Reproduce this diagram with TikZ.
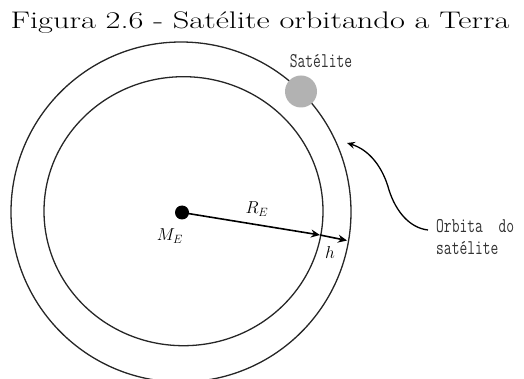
\documentclass[tikz,border=0pt]{standalone}
\usepackage{fontspec}
\usepackage{tikz}
\usetikzlibrary{arrows.meta, positioning}
\newcommand{\notetext}[1]{\scalebox{0.72}[1]{\ttfamily\fontsize{21}{23}\selectfont #1}}

\begin{document}
\begin{tikzpicture}[
    x=1pt, y=-1pt,
    orbit/.style={draw=black!85, line width=1.3pt},
    vecarrow/.style={-{Stealth[length=9pt, width=8pt, inset=3pt]}, line width=1.6pt},
    note/.style={text=black!80, inner sep=0pt},
    mathlbl/.style={font=\fontsize{17}{19}\selectfont, inner sep=0pt}
]
    \useasboundingbox (0,0) rectangle (524,379);

    % Title
    \node[anchor=base, inner sep=0pt, font=\fontsize{24}{28}\selectfont] (title) at (260,29) {\scalebox{1.35}[1]{Figura 2.6 - Satélite orbitando a Terra}};

    % Earth surface and orbit
    \draw[orbit] (183.5,211.2) ellipse [x radius=139.5pt, y radius=134.5pt];
    \draw[orbit] (181,212) circle [radius=170pt];

    % Earth mass and satellite
    \node[circle, fill=black, minimum size=14pt, inner sep=0pt] (earth) at (182,212.5) {};
    \node[circle, fill=black!30, minimum size=32pt, inner sep=0pt] (sat) at (301,91.5) {};
    \node[note, anchor=base] (satlbl) at (321,68) {\notetext{Satélite}};

    % Radius and height
    \coordinate (surf) at (320,235);
    \coordinate (orb) at (347,240.5);
    \draw[vecarrow] (earth.center) -- (surf);
    \draw[vecarrow] (surf) -- (orb);
    \node[mathlbl] (rlbl) at (257,209) {$R_E$};
    \node[mathlbl] (mlbl) at (170,236) {$M_E$};
    \node[mathlbl] (hlbl) at (330,252) {$h$};

    % Orbit label
    \node[note, anchor=base west] (orblbl) at (436,233) {\notetext{Orbita\ \ do}};
    \node[note, anchor=base west] (orblbl2) at (436,254) {\notetext{satélite}};
    \coordinate (orbstart) at (428,230);
    \coordinate (orbtip) at (347,143);
    \draw[-{Stealth[length=8pt, width=7pt, inset=3pt]}, line width=1.3pt] (orbstart) .. controls (410,228) and (396,212) .. (389,190) .. controls (383,168) and (370,150) .. (orbtip);
\end{tikzpicture}
\end{document}
